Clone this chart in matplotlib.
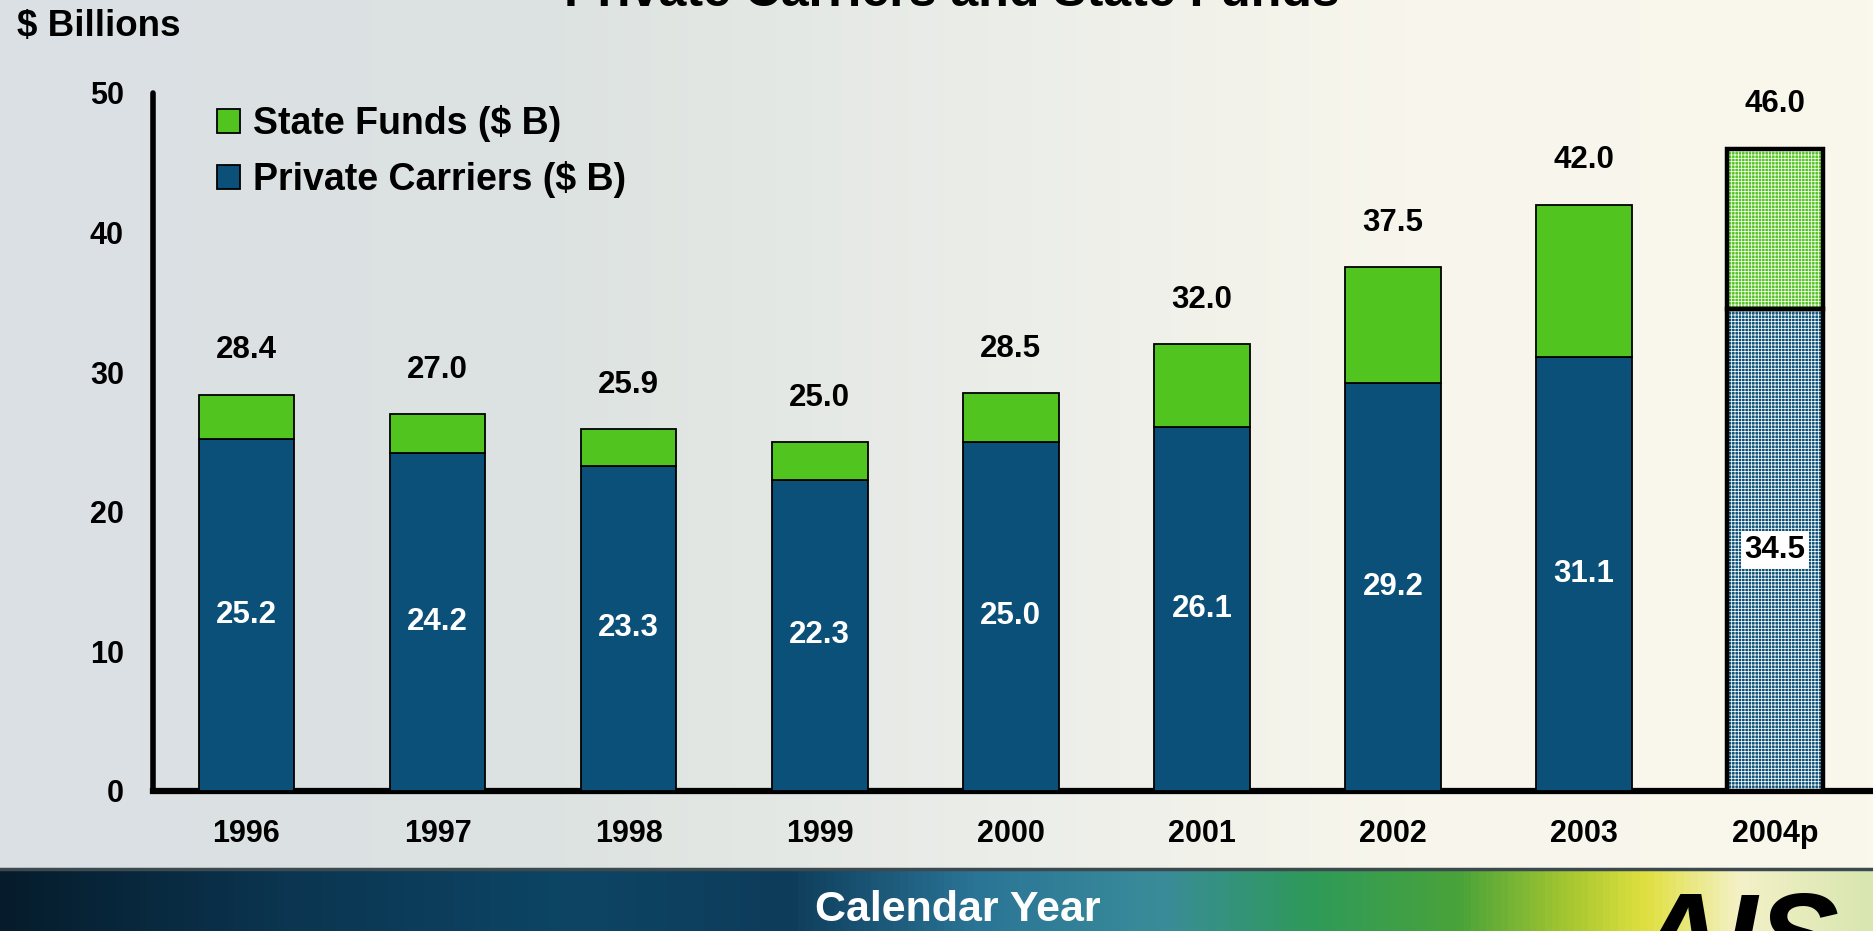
import numpy as np
import matplotlib
matplotlib.use("Agg")
import matplotlib.pyplot as plt
from matplotlib.colors import LinearSegmentedColormap

plt.rcParams['font.family'] = ['Liberation Sans', 'DejaVu Sans']
plt.rcParams['font.weight'] = 'bold'

# ---------------- data ----------------
years = ["1996", "1997", "1998", "1999", "2000", "2001", "2002", "2003", "2004p"]
private_carriers = [25.2, 24.2, 23.3, 22.3, 25.0, 26.1, 29.2, 31.1, 34.5]
state_funds = [3.2, 2.8, 2.6, 2.7, 3.5, 5.9, 8.3, 10.9, 11.5]
totals = [28.4, 27.0, 25.9, 25.0, 28.5, 32.0, 37.5, 42.0, 46.0]
yticks = [0, 10, 20, 30, 40, 50]

title = "Private Carriers and State Funds"
series_names = ["State Funds ($ B)", "Private Carriers ($ B)"]

BLUE = "#0A5078"
GREEN = "#52C41F"

W, H = 1874, 931
fig = plt.figure(figsize=(W / 100, H / 100), dpi=100)

# ---------------- background ----------------
bg = fig.add_axes([0, 0, 1, 1], zorder=-10)
bg.set_xlim(0, W)
bg.set_ylim(H, 0)
bg.axis("off")
top_cmap = LinearSegmentedColormap.from_list(
    "top", [(0.0, "#DAE0E4"), (0.3, "#DDE3E1"), (0.55, "#ECEEE9"),
            (0.75, "#F8F6EC"), (1.0, "#FAF7EC")])
grad = np.linspace(0, 1, 512)[None, :]
bg.imshow(grad, cmap=top_cmap, aspect="auto", extent=[0, W, 869, 0])
ban_cmap = LinearSegmentedColormap.from_list(
    "ban", [(0.0, "#061C2C"), (0.15, "#0B3550"), (0.3, "#0D4565"),
            (0.42, "#0E3C5A"), (0.52, "#2A7496"), (0.62, "#3A8C9A"),
            (0.7, "#2E9A5A"), (0.78, "#4AA33A"), (0.84, "#A8C830"),
            (0.88, "#E0E040"), (0.93, "#F4F1C8"), (1.0, "#D8E6B0")])
bg.imshow(grad, cmap=ban_cmap, aspect="auto", extent=[0, W, H, 869])
bg.plot([0, W], [869, 869], color="#3C4A50", lw=2.5)
bg.text(952, 6, title, ha="center", va="baseline", fontsize=36,
        fontweight="bold", color="black")
bg.text(17, 36, "$ Billions", ha="left", va="baseline", fontsize=26.5,
        fontweight="bold", color="black")
bg.text(958, 910, "Calendar Year", ha="center", va="center", fontsize=31,
        fontweight="bold", color="white")
bg.text(1636, 890, "AIS", ha="left", va="top", fontsize=88,
        fontweight="bold", fontstyle="italic", color="black")

# ---------------- main axes ----------------
ax = fig.add_axes([153 / W, 1 - 791 / H, 1 - 153 / W, (791 - 93) / H])
ax.set_facecolor("none")
x = np.arange(len(years))
ax.set_xlim(-0.489, 8.517)
ax.set_ylim(0, 50)

plt.rcParams['hatch.linewidth'] = 0.55
bars_p = ax.bar(x, private_carriers, width=0.5, color=BLUE,
                edgecolor="black", linewidth=1.3, label=series_names[1], zorder=3)
bars_s = ax.bar(x, state_funds, width=0.5, bottom=private_carriers,
                color=GREEN, edgecolor="black", linewidth=1.3,
                label=series_names[0], zorder=3)

# projected year: hatched look with thick outline
for bar in (bars_p[-1], bars_s[-1]):
    bar.set_hatch("+" * 5)
    bar.set_edgecolor("white")
    bar.set_linewidth(0)
ax.bar(x[-1:], private_carriers[-1:], width=0.5, fill=False,
       edgecolor="black", linewidth=3.2, zorder=4)
ax.bar(x[-1:], state_funds[-1:], width=0.5, bottom=private_carriers[-1:],
       fill=False, edgecolor="black", linewidth=3.2, zorder=4)

# labels
for i in range(len(years)):
    ax.annotate(f"{totals[i]:.1f}", (x[i], totals[i]), xytext=(0, 32),
                textcoords="offset points", ha="center", va="center",
                fontsize=22.5, fontweight="bold", color="black", zorder=5)
    if i < len(years) - 1:
        ax.text(x[i], private_carriers[i] / 2, f"{private_carriers[i]:.1f}",
                ha="center", va="center", fontsize=22.5, fontweight="bold",
                color="white", zorder=5)
    else:
        ax.text(x[i], private_carriers[i] / 2, f"{private_carriers[i]:.1f}",
                ha="center", va="center", fontsize=22.5, fontweight="bold",
                color="black", zorder=5,
                bbox=dict(boxstyle="square,pad=0.12", fc="white", ec="none"))

# axes styling
for s in ("top", "right"):
    ax.spines[s].set_visible(False)
ax.spines["left"].set_linewidth(4.0)
ax.spines["bottom"].set_linewidth(4.5)
ax.spines["left"].set_capstyle("round")
ax.set_xticks(x)
ax.set_xticklabels(years)
ax.set_yticks(yticks)
ax.tick_params(axis="both", length=0, labelsize=22)
ax.tick_params(axis="y", pad=21)
ax.tick_params(axis="x", pad=20)
for lbl in ax.get_xticklabels() + ax.get_yticklabels():
    lbl.set_fontweight("bold")

leg = ax.legend(handles=[bars_s, bars_p], labels=series_names,
                loc="upper left", bbox_to_anchor=(217 / W, 1 - 105 / H),
                bbox_transform=fig.transFigure, frameon=False,
                fontsize=27, handlelength=0.62, handleheight=0.62,
                handletextpad=0.35, labelspacing=0.52, borderpad=0,
                borderaxespad=0)
for t in leg.get_texts():
    t.set_fontweight("bold")

fig.savefig("out.png", dpi=100)
